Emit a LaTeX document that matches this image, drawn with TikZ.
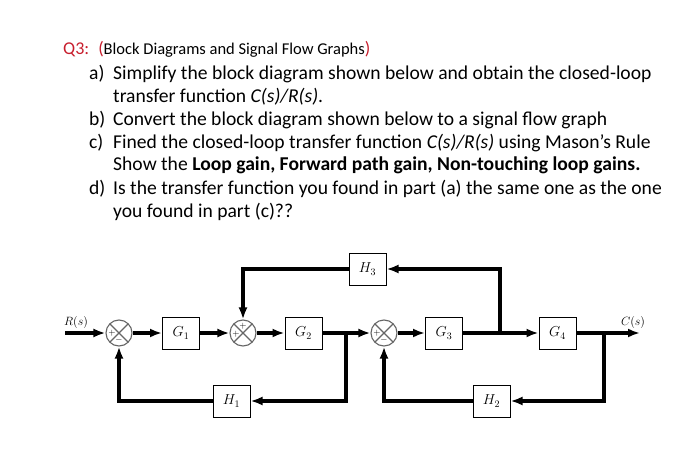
\documentclass[tikz,border=0pt]{standalone}
\usepackage{fontspec}
\setmainfont{Carlito}
\usetikzlibrary{arrows.meta,positioning,calc}
\definecolor{qred}{RGB}{200,30,45}
\tikzset{block/.style={draw=black,line width=1pt,minimum width=37pt,minimum height=32pt,inner sep=0pt,font=\fontsize{14}{14}\selectfont},
summer/.style={circle,draw=black!60,line width=1.1pt,minimum size=26pt,inner sep=0pt,path picture={\draw[black!60,line width=1.1pt](path picture bounding box.north west)--(path picture bounding box.south east)(path picture bounding box.north east)--(path picture bounding box.south west);}},
sgn/.style={inner sep=0pt,font=\fontsize{9}{9}\selectfont},
edge/.style={-{Latex[length=12pt,width=9pt]},line width=3.2pt},
qline/.style={anchor=base west,inner sep=0pt,font=\fontsize{19.6}{19.6}\selectfont}}

\begin{document}
\begin{tikzpicture}[x=1pt,y=-1pt]
\useasboundingbox[fill=white](0,0) rectangle (700,470);
% question text
\node[qline,font=\fontsize{18}{18}\selectfont] (q) at (63,55) {\textcolor{qred}{Q3:\hspace{9pt}(}{\fontsize{16.5}{16.5}\selectfont Block Diagrams and Signal Flow Graphs}\textcolor{qred}{)}};
\node[qline] (la) at (89,80) {a)};
\node[qline] (ta1) at (113,80) {Simplify the block diagram shown below and obtain the closed-loop};
\node[qline] (ta2) at (113,103) {transfer function \textit{C(s)/R(s)}.};
\node[qline] (lb) at (89,126) {b)};
\node[qline] (tb) at (113,126) {Convert the block diagram shown below to a signal flow graph};
\node[qline] (lc) at (89,149) {c)};
\node[qline] (tc1) at (113,149) {Fined the closed-loop transfer function \textit{C(s)/R(s)} using Mason’s Rule};
\node[qline] (tc2) at (113,171) {Show the \textbf{Loop gain, Forward path gain, Non-touching loop gains.}};
\node[qline] (ld) at (89,194) {d)};
\node[qline] (td1) at (113,194) {Is the transfer function you found in part (a) the same one as the one};
\node[qline] (td2) at (113,217) {you found in part (c)??};
% block diagram
\coordinate (rin) at (65,333);
\node[summer] (s1) at (119,333) {};
\node[block] (g1) at (181,333) {$G_1$};
\node[summer] (s2) at (243,333) {};
\node[block] (g2) at (303.5,333) {$G_2$};
\coordinate (b1) at (346,333);
\node[summer] (s3) at (384,333) {};
\node[block] (g3) at (444,333) {$G_3$};
\coordinate (b3) at (500,333);
\node[block] (g4) at (557.5,333) {$G_4$};
\coordinate (b2) at (604,333);
\coordinate (cout) at (640,333);
\node[block] (h1) at (231.5,401) {$H_1$};
\node[block] (h2) at (491.5,401) {$H_2$};
\node[block] (h3) at (367.5,269) {$H_3$};
\node[font=\fontsize{13}{13}\selectfont] (rl) at (76,322) {$R(s)$};
\node[font=\fontsize{13}{13}\selectfont] (cl) at (633,322) {$C(s)$};
\node[sgn] (s1a) at (112,333) {$+$};
\node[sgn] (s1b) at (119,340) {$-$};
\node[sgn] (s2a) at (243,326) {$+$};
\node[sgn] (s2b) at (236,334) {$+$};
\node[sgn] (s3a) at (377,333) {$+$};
\node[sgn] (s3b) at (384,340) {$-$};
\draw[edge](rin)--(s1);\draw[edge](s1)--(g1);\draw[edge](g1)--(s2);\draw[edge](s2)--(g2);
\draw[edge](g2)--(s3);\draw[edge](s3)--(g3);\draw[edge](g3)--(g4);\draw[edge](g4)--(cout);
\draw[edge](b1)|-(h1);\draw[edge](h1)-|(s1);
\draw[edge](b2)|-(h2);\draw[edge](h2)-|(s3);
\draw[edge](b3)|-(h3);\draw[edge](h3)-|(s2);
\end{tikzpicture}
\end{document}
